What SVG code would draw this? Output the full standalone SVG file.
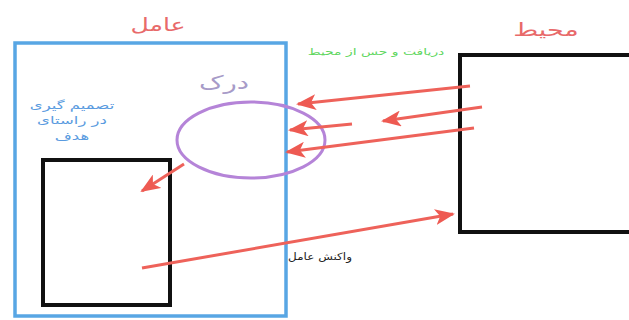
<svg xmlns="http://www.w3.org/2000/svg" width="629" height="320" viewBox="0 0 629 320">
<style>
.t{font-family:"DejaVu Sans","Noto Sans",sans-serif;text-anchor:middle}
.arr{stroke:#EE625A;stroke-width:3;fill:none;marker-end:url(#ah)}
</style>
<defs>
<marker id="ah" markerUnits="userSpaceOnUse" markerWidth="20" markerHeight="16" refX="18" refY="8" orient="auto">
<path d="M0,0 L20,8 L0,16 L5,8 Z" fill="#EE5A52"/>
</marker>
</defs>
<rect width="629" height="320" fill="#fff"/>
<g id="agent">
<rect x="15" y="43" width="271" height="273" fill="none" stroke="#58A6E4" stroke-width="3.5"/>
<text class="t" transform="translate(158,31) scale(1.4,1)" font-size="18" fill="#E86A6A">عامل</text>
</g>
<g id="decision">
<rect x="43" y="160" width="127" height="145" fill="none" stroke="#111" stroke-width="4"/>
<text class="t" transform="translate(72,109) scale(1.5,1)" font-size="11" fill="#5A9BE0">تصمیم گیری</text>
<text class="t" transform="translate(72,124) scale(1.5,1)" font-size="11" fill="#5A9BE0">در راستای</text>
<text class="t" transform="translate(72,140) scale(1.5,1)" font-size="11" fill="#5A9BE0">هدف</text>
</g>
<g id="perception">
<ellipse cx="251" cy="140" rx="74" ry="38" fill="none" stroke="#B584D8" stroke-width="3"/>
<text class="t" transform="translate(224,89) scale(1.45,1)" font-size="19" fill="#A79BC8">درک</text>
</g>
<g id="environment">
<rect x="460" y="55" width="180" height="177" fill="none" stroke="#111" stroke-width="4"/>
<text class="t" transform="translate(546,36) scale(1.5,1)" font-size="18" fill="#E86A6A">محیط</text>
</g>
<g id="connectors">
<line class="arr" x1="470" y1="86" x2="298" y2="104"/>
<line class="arr" x1="482" y1="107" x2="383" y2="121"/>
<line class="arr" x1="352" y1="124" x2="290" y2="130"/>
<line class="arr" x1="474" y1="128" x2="287" y2="152"/>
<line class="arr" x1="184" y1="164" x2="142" y2="191"/>
<line class="arr" x1="142" y1="268" x2="453" y2="214"/>
<text class="t" transform="translate(376,55) scale(1.55,1)" font-size="9" fill="#5DD65D">دریافت و حس از محیط</text>
<text class="t" transform="translate(320,260) scale(1.2,1)" font-size="10" fill="#222">واکنش عامل</text>
</g>
</svg>
